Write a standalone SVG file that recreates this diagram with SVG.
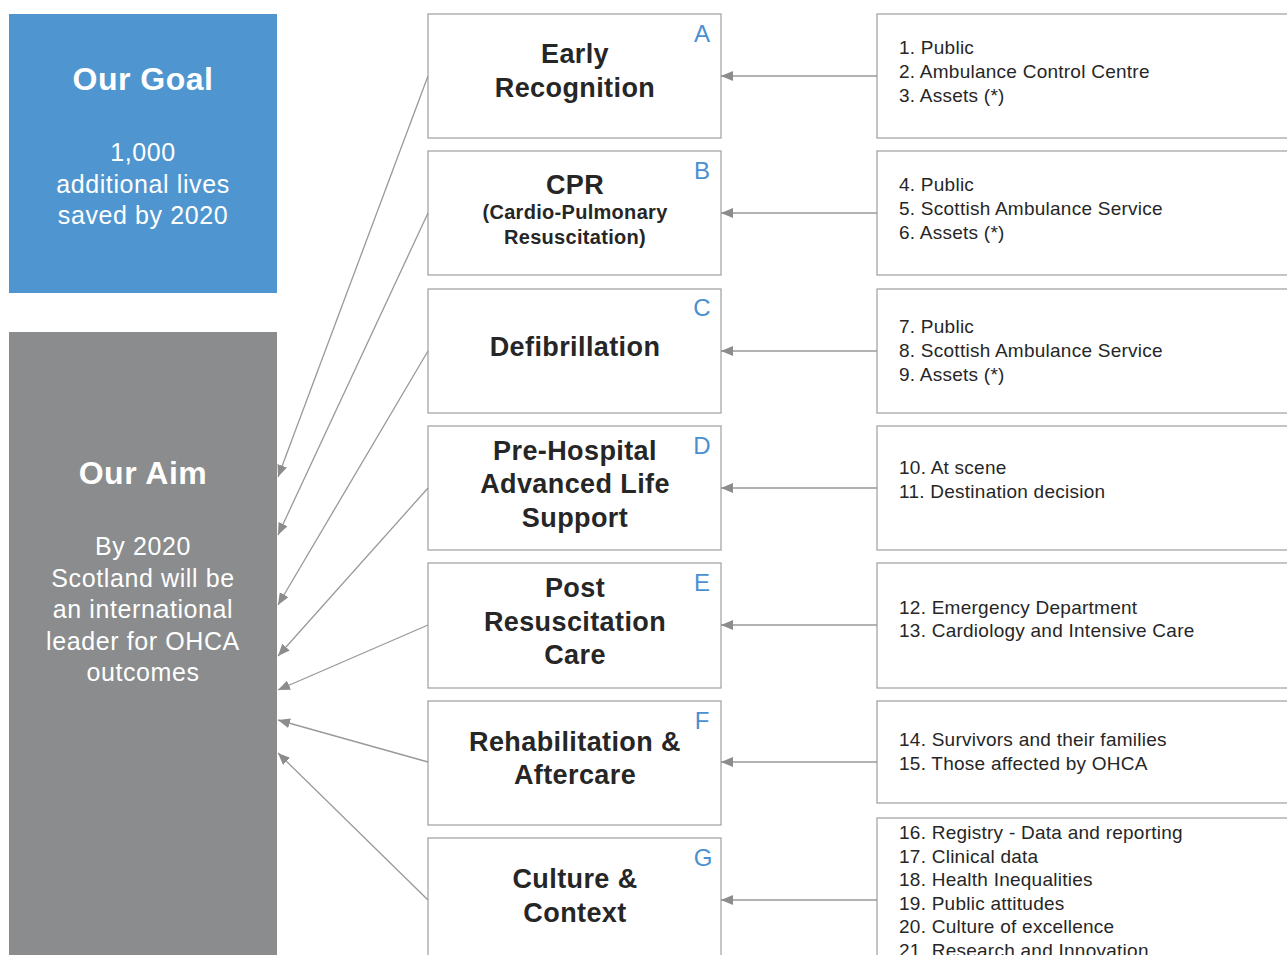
<svg xmlns="http://www.w3.org/2000/svg" width="1287" height="955" viewBox="0 0 1287 955">
<defs>
<marker id="ah" markerWidth="12" markerHeight="10" refX="12" refY="5" orient="auto" markerUnits="userSpaceOnUse">
<path d="M0,0 L12,5 L0,10 Z" fill="#8c8c8c"/>
</marker>
<style>
.box{fill:#fff;stroke:#a6a6a6;stroke-width:1.3}
.t{font-family:"Liberation Sans",Arial,sans-serif;font-weight:bold;font-size:27px;letter-spacing:0.4px;fill:#262626;text-anchor:middle}
.ts{font-family:"Liberation Sans",Arial,sans-serif;font-weight:bold;font-size:20px;letter-spacing:0.3px;fill:#262626;text-anchor:middle}
.l{font-family:"Liberation Sans",Arial,sans-serif;font-size:24px;fill:#4a90d0;text-anchor:middle}
.li{font-family:"Liberation Sans",Arial,sans-serif;font-size:19px;letter-spacing:0.25px;fill:#262626}
.wh{font-family:"Liberation Sans",Arial,sans-serif;fill:#fff;text-anchor:middle}
.c{stroke:#999;stroke-width:1.3;fill:none}
</style>
</defs>
<rect width="1287" height="955" fill="#fff"/>
<g id="goal">
<rect x="9" y="14" width="268" height="279" fill="#4f96d0"/>
<text class="wh" x="143" y="90" font-size="32" font-weight="bold" letter-spacing="0.5">Our Goal</text>
<text class="wh" x="143" y="161" font-size="25" letter-spacing="0.6">1,000</text>
<text class="wh" x="143" y="193" font-size="25" letter-spacing="0.6">additional lives</text>
<text class="wh" x="143" y="224" font-size="25" letter-spacing="0.6">saved by 2020</text>
</g>
<g id="aim">
<rect x="9" y="332" width="268" height="630" fill="#8a8c8d"/>
<text class="wh" x="143" y="484" font-size="32" font-weight="bold" letter-spacing="0.5">Our Aim</text>
<text class="wh" x="143" y="555" font-size="25" letter-spacing="0.6">By 2020</text>
<text class="wh" x="143" y="587" font-size="25" letter-spacing="0.6">Scotland will be</text>
<text class="wh" x="143" y="618" font-size="25" letter-spacing="0.6">an international</text>
<text class="wh" x="143" y="650" font-size="25" letter-spacing="0.6">leader for OHCA</text>
<text class="wh" x="143" y="681" font-size="25" letter-spacing="0.6">outcomes</text>
</g>
<g id="nodeA">
<rect class="box" x="428" y="14" width="293" height="124"/>
<text class="t" x="575" y="63">Early</text>
<text class="t" x="575" y="97">Recognition</text>
<text class="l" x="702" y="42">A</text>
</g>
<g id="nodeB">
<rect class="box" x="428" y="151" width="293" height="124"/>
<text class="t" x="575" y="194">CPR</text>
<text class="ts" x="575" y="219">(Cardio-Pulmonary</text>
<text class="ts" x="575" y="244">Resuscitation)</text>
<text class="l" x="702" y="179">B</text>
</g>
<g id="nodeC">
<rect class="box" x="428" y="289" width="293" height="124"/>
<text class="t" x="575" y="356">Defibrillation</text>
<text class="l" x="702" y="316">C</text>
</g>
<g id="nodeD">
<rect class="box" x="428" y="426" width="293" height="124"/>
<text class="t" x="575" y="460">Pre-Hospital</text>
<text class="t" x="575" y="493">Advanced Life</text>
<text class="t" x="575" y="527">Support</text>
<text class="l" x="702" y="454">D</text>
</g>
<g id="nodeE">
<rect class="box" x="428" y="563" width="293" height="125"/>
<text class="t" x="575" y="597">Post</text>
<text class="t" x="575" y="631">Resuscitation</text>
<text class="t" x="575" y="664">Care</text>
<text class="l" x="702" y="591">E</text>
</g>
<g id="nodeF">
<rect class="box" x="428" y="701" width="293" height="124"/>
<text class="t" x="575" y="751">Rehabilitation &amp;</text>
<text class="t" x="575" y="784">Aftercare</text>
<text class="l" x="702" y="729">F</text>
</g>
<g id="nodeG">
<rect class="box" x="428" y="838" width="293" height="130"/>
<text class="t" x="575" y="888">Culture &amp;</text>
<text class="t" x="575" y="922">Context</text>
<text class="l" x="703" y="866">G</text>
</g>
<g id="listA">
<rect class="box" x="877" y="14" width="420" height="124"/>
<text class="li" x="899" y="54">1. Public</text>
<text class="li" x="899" y="78">2. Ambulance Control Centre</text>
<text class="li" x="899" y="102">3. Assets (*)</text>
</g>
<g id="listB">
<rect class="box" x="877" y="151" width="420" height="124"/>
<text class="li" x="899" y="191">4. Public</text>
<text class="li" x="899" y="215">5. Scottish Ambulance Service</text>
<text class="li" x="899" y="239">6. Assets (*)</text>
</g>
<g id="listC">
<rect class="box" x="877" y="289" width="420" height="124"/>
<text class="li" x="899" y="333">7. Public</text>
<text class="li" x="899" y="357">8. Scottish Ambulance Service</text>
<text class="li" x="899" y="381">9. Assets (*)</text>
</g>
<g id="listD">
<rect class="box" x="877" y="426" width="420" height="124"/>
<text class="li" x="899" y="474">10. At scene</text>
<text class="li" x="899" y="498">11. Destination decision</text>
</g>
<g id="listE">
<rect class="box" x="877" y="563" width="420" height="125"/>
<text class="li" x="899" y="614">12. Emergency Department</text>
<text class="li" x="899" y="637">13. Cardiology and Intensive Care</text>
</g>
<g id="listF">
<rect class="box" x="877" y="701" width="420" height="102"/>
<text class="li" x="899" y="746">14. Survivors and their families</text>
<text class="li" x="899" y="770">15. Those affected by OHCA</text>
</g>
<g id="listG">
<rect class="box" x="877" y="818" width="420" height="150"/>
<text class="li" x="899" y="839">16. Registry - Data and reporting</text>
<text class="li" x="899" y="863">17. Clinical data</text>
<text class="li" x="899" y="886">18. Health Inequalities</text>
<text class="li" x="899" y="910">19. Public attitudes</text>
<text class="li" x="899" y="933">20. Culture of excellence</text>
<text class="li" x="899" y="957">21. Research and Innovation</text>
</g>
<g id="connectors">
<line class="c" x1="877" y1="76" x2="721" y2="76" marker-end="url(#ah)"/>
<line class="c" x1="877" y1="213" x2="721" y2="213" marker-end="url(#ah)"/>
<line class="c" x1="877" y1="351" x2="721" y2="351" marker-end="url(#ah)"/>
<line class="c" x1="877" y1="488" x2="721" y2="488" marker-end="url(#ah)"/>
<line class="c" x1="877" y1="625" x2="721" y2="625" marker-end="url(#ah)"/>
<line class="c" x1="877" y1="762" x2="721" y2="762" marker-end="url(#ah)"/>
<line class="c" x1="877" y1="900" x2="721" y2="900" marker-end="url(#ah)"/>
<line class="c" x1="428" y1="76" x2="278" y2="477" marker-end="url(#ah)"/>
<line class="c" x1="428" y1="213" x2="278" y2="535" marker-end="url(#ah)"/>
<line class="c" x1="428" y1="351" x2="278" y2="605" marker-end="url(#ah)"/>
<line class="c" x1="428" y1="488" x2="278" y2="656" marker-end="url(#ah)"/>
<line class="c" x1="428" y1="625" x2="278" y2="690" marker-end="url(#ah)"/>
<line class="c" x1="428" y1="762" x2="278" y2="720" marker-end="url(#ah)"/>
<line class="c" x1="428" y1="900" x2="278" y2="753" marker-end="url(#ah)"/>
</g>
</svg>
